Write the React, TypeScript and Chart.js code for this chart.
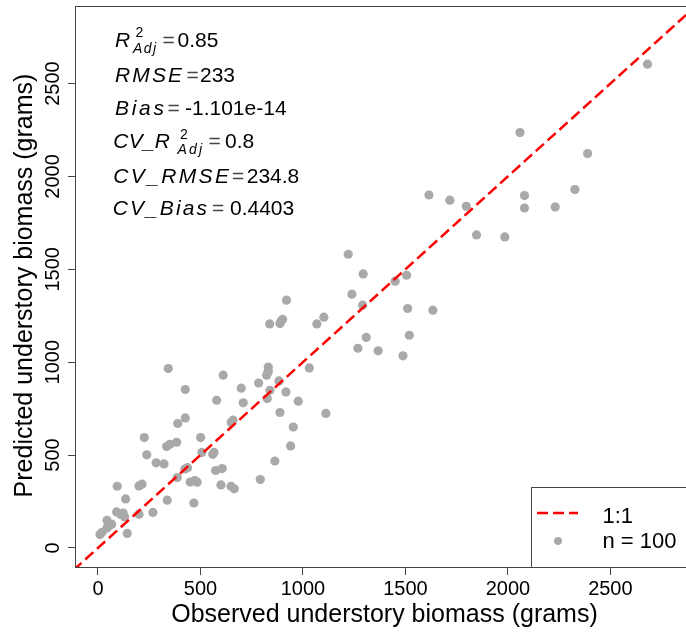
import React, { useEffect, useRef } from "react";
import { Chart, registerables } from "chart.js";

Chart.register(...registerables);

const observed = [
  426, 579, 699, 784, 839, 709, 826, 888, 426, 389,
  650, 226, 501, 384, 335, 238, 507, 560, 284, 322,
  424, 574, 606, 863, 387, 450, 484, 94, 200, 600,
  649, 665, 792, 135, 338, 468, 91, 123, 130, 200,
  268, 44, 67, 44, 10, 143, 54, 920, 1239, 1291,
  1450, 1511, 1634, 838, 888, 901, 1068, 1102, 1309, 1268,
  1367, 1519, 1488, 831, 831, 823, 1031, 883, 917, 977,
  1112, 953, 940, 2681, 2059, 2389, 1615, 1717, 1797, 2081,
  2081, 2231, 2327, 1847, 1985, 1506, 343, 611, 1221, 1294,
  437, 472, 112, 215, 351, 566, 659, 829, 893, 20,
];
const predicted = [
  853, 795, 860, 888, 849, 781, 804, 729, 700, 670,
  675, 594, 594, 569, 546, 501, 514, 504, 458, 452,
  425, 417, 427, 468, 379, 355, 354, 332, 334, 339,
  332, 318, 368, 264, 257, 242, 194, 188, 167, 181,
  191, 149, 128, 108, 72, 78, 120, 1334, 1366, 1307,
  1436, 1289, 1280, 1206, 1208, 1230, 1206, 1242, 1133, 1075,
  1061, 1145, 1034, 974, 953, 930, 969, 899, 840, 790,
  724, 651, 549, 2604, 2236, 2123, 1900, 1872, 1839, 1897,
  1830, 1836, 1929, 1685, 1674, 1468, 966, 930, 1581, 1475,
  432, 363, 180, 343, 558, 514, 688, 945, 1220, 84,
];

const axisTicks = [0, 500, 1000, 1500, 2000, 2500];
const xRange = [-112, 2908];
const yRange = [-108, 2912];
const oneToOne = [-120, 2920];

const xTitle = "Observed understory biomass (grams)";
const yTitle = "Predicted understory biomass (grams)";
const legendLabels = ["1:1", "n = 100"];
const statValues = ["0.85", "233", "-1.101e-14", "0.8", "234.8", "0.4403"];

const FONT = '"Liberation Sans", Arial, Helvetica, sans-serif';
const POINT_COLOR = "#A9A9A9";
const LINE_COLOR = "#FF0000";
const AXIS_COLOR = "#444444";
const DASH = [11, 5];

function spaced(ctx: CanvasRenderingContext2D, text: string, x0: number, x1: number, y: number) {
  const chars = Array.from(text);
  const ws = chars.map((c) => ctx.measureText(c).width);
  const total = ws.reduce((a, b) => a + b, 0);
  const gap = chars.length > 1 ? (x1 - x0 - total) / (chars.length - 1) : 0;
  let x = x0;
  chars.forEach((c, i) => {
    ctx.fillText(c, x, y);
    x += ws[i] + gap;
  });
}

const overlay = {
  id: "overlay",
  afterDraw(chart: any) {
    const ctx: CanvasRenderingContext2D = chart.ctx;
    const { left, right, top, bottom } = chart.chartArea;
    const xs = chart.scales.x;
    const ys = chart.scales.y;
    ctx.save();

    // plot box
    ctx.strokeStyle = AXIS_COLOR;
    ctx.lineWidth = 1;
    ctx.setLineDash([]);
    ctx.strokeRect(Math.round(left) + 0.5, Math.round(top) - 0.5, Math.round(right - left), Math.round(bottom - top));

    // tick labels
    ctx.fillStyle = "#000";
    ctx.font = `20px ${FONT}`;
    ctx.textAlign = "center";
    ctx.textBaseline = "alphabetic";
    xs.ticks.forEach((t: any) => {
      ctx.fillText(String(t.value), xs.getPixelForValue(t.value), bottom + 27);
    });
    ys.ticks.forEach((t: any) => {
      ctx.save();
      ctx.translate(left - 16, ys.getPixelForValue(t.value));
      ctx.rotate(-Math.PI / 2);
      ctx.fillText(String(t.value), 0, 0);
      ctx.restore();
    });

    // axis titles
    ctx.font = `25px ${FONT}`;
    ctx.fillText(xTitle, (left + right) / 2, bottom + 54);
    ctx.save();
    ctx.translate(31.5, (top + bottom) / 2 - 2);
    ctx.rotate(-Math.PI / 2);
    ctx.fillText(yTitle, 0, 0);
    ctx.restore();

    // statistics
    ctx.textAlign = "left";
    const it = `italic 21px ${FONT}`;
    const itS = `italic 14px ${FONT}`;
    const nm = `21px ${FONT}`;
    const nmS = `14px ${FONT}`;
    const eq = (x: number, y: number) => {
      ctx.font = nm;
      ctx.fillStyle = "#444";
      ctx.fillText("=", x, y);
      ctx.fillStyle = "#000";
    };
    // line 1
    let b = 46.7;
    ctx.font = it; ctx.fillText("R", 115, b);
    ctx.font = nmS; ctx.fillText("2", 135.5, 37);
    ctx.font = itS; spaced(ctx, "Adj", 133, 156, 52.5);
    eq(162.5, b);
    ctx.font = nm; ctx.fillText(statValues[0], 177.5, b);
    // line 2
    b = 81.7;
    ctx.font = it; spaced(ctx, "RMSE", 115, 182, b);
    eq(186.5, b);
    ctx.font = nm; ctx.fillText(statValues[1], 200, b);
    // line 3
    b = 115;
    ctx.font = it; spaced(ctx, "Bias", 115, 164, b);
    eq(167.5, b);
    ctx.font = nm; ctx.fillText(statValues[2], 185, b);
    // line 4
    b = 148.3;
    ctx.font = it; spaced(ctx, "CV_R", 113.3, 170, b);
    ctx.font = nmS; ctx.fillText("2", 180, 139);
    ctx.font = itS; spaced(ctx, "Adj", 177.5, 202, 154);
    eq(208.5, b);
    ctx.font = nm; ctx.fillText(statValues[3], 225, b);
    // line 5
    b = 183.3;
    ctx.font = it; spaced(ctx, "CV_RMSE", 113.3, 229, b);
    eq(232, b);
    ctx.font = nm; ctx.fillText(statValues[4], 246.7, b);
    // line 6
    b = 215;
    ctx.font = it; spaced(ctx, "CV_Bias", 112.7, 207, b);
    eq(212, b);
    ctx.font = nm; ctx.fillText(statValues[5], 230, b);

    // legend
    const lx = 531.5;
    const ly = 487.5;
    ctx.fillStyle = "#fff";
    ctx.fillRect(lx, ly, 200, Math.round(bottom) - ly);
    ctx.strokeStyle = AXIS_COLOR;
    ctx.lineWidth = 1;
    ctx.strokeRect(lx, ly, 200, Math.round(bottom) - ly - 0.5);
    ctx.strokeStyle = LINE_COLOR;
    ctx.lineWidth = 2.5;
    ctx.setLineDash(DASH);
    ctx.beginPath();
    ctx.moveTo(537, 513);
    ctx.lineTo(578, 513);
    ctx.stroke();
    ctx.setLineDash([]);
    ctx.fillStyle = POINT_COLOR;
    ctx.beginPath();
    ctx.arc(558, 541, 4, 0, Math.PI * 2);
    ctx.fill();
    ctx.fillStyle = "#000";
    ctx.font = `22px ${FONT}`;
    ctx.textBaseline = "middle";
    ctx.fillText(legendLabels[0], 602.5, 517);
    ctx.fillText(legendLabels[1], 602.5, 542);

    ctx.restore();
  },
};

export default function App() {
  const ref = useRef<HTMLCanvasElement | null>(null);

  useEffect(() => {
    if (!ref.current) return;
    const points = observed.map((x, i) => ({ x, y: predicted[i] }));
    const setTicks = (s: any) => {
      s.ticks = axisTicks.map((v) => ({ value: v }));
    };
    const chart = new Chart(ref.current, {
      type: "scatter",
      data: {
        datasets: [
          {
            type: "line",
            label: legendLabels[0],
            data: oneToOne.map((v) => ({ x: v, y: v })),
            borderColor: LINE_COLOR,
            borderWidth: 2.5,
            borderDash: DASH,
            pointRadius: 0,
            fill: false,
          } as any,
          {
            type: "scatter",
            label: legendLabels[1],
            data: points,
            backgroundColor: POINT_COLOR,
            borderWidth: 0,
            pointRadius: 4.6,
          },
        ],
      },
      options: {
        responsive: false,
        animation: false,
        devicePixelRatio: 1,
        layout: { padding: { left: 0, top: 7, right: 6, bottom: 0 } },
        plugins: { legend: { display: false }, tooltip: { enabled: false } },
        scales: {
          x: {
            type: "linear",
            min: xRange[0],
            max: xRange[1],
            afterBuildTicks: setTicks,
            afterFit: (s: any) => {
              s.height = 66;
            },
            ticks: { display: false },
            grid: { drawOnChartArea: false, drawTicks: true, tickLength: 7, color: AXIS_COLOR },
            border: { display: false },
          },
          y: {
            type: "linear",
            min: yRange[0],
            max: yRange[1],
            afterBuildTicks: setTicks,
            afterFit: (s: any) => {
              s.width = 75;
            },
            ticks: { display: false },
            grid: { drawOnChartArea: false, drawTicks: true, tickLength: 7, color: AXIS_COLOR },
            border: { display: false },
          },
        },
      } as any,
      plugins: [overlay],
    });
    return () => chart.destroy();
  }, []);

  return (
    <div
      style={{
        position: "fixed",
        left: 0,
        top: 0,
        width: 686,
        height: 634,
        overflow: "hidden",
        background: "#fff",
      }}
    >
      <canvas ref={ref} width={700} height={634} style={{ display: "block", width: 700, height: 634 }} />
    </div>
  );
}
